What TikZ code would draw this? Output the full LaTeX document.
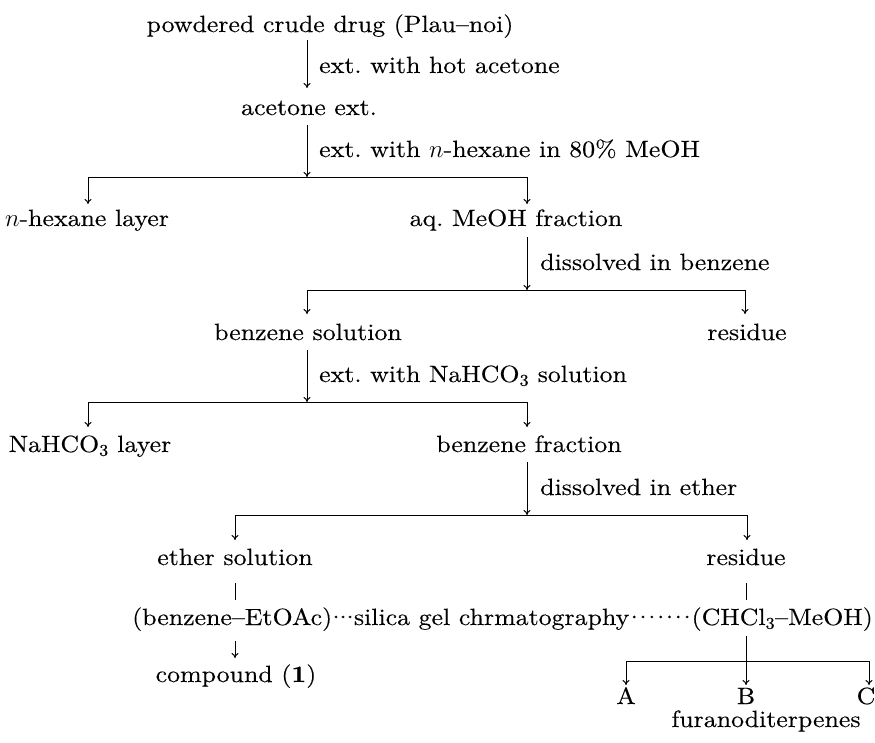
\documentclass[tikz,border=0pt]{standalone}
\usepackage{fontspec}
\setmainfont{lmroman10-regular.otf}[BoldFont=lmroman10-bold.otf, ItalicFont=lmroman10-italic.otf, FakeStretch=1.1, FakeBold=0.25]
\usetikzlibrary{arrows.meta,calc}
\newcommand\fsz{\fontsize{23.5}{27}\selectfont}
\newcommand\dd{\makebox[7pt]{\textperiodcentered}}
\newlength\dotw
\begin{document}
\begin{tikzpicture}[x=1pt,y=-1pt,
  lbl/.style={anchor=base, inner sep=0pt, font=\fsz},
  side/.style={anchor=base west, inner sep=0pt, font=\fsz},
  arr/.style={-{To[length=5pt,width=7pt]}, line width=1pt},
  ln/.style={line width=1pt}]
\useasboundingbox (0,0) rectangle (875,742);
% texts
\node[lbl] (top) at (330,32) {powdered crude drug (Plau--noi)};
\node[side] (l1) at (319,73) {ext.\ with hot acetone};
\node[lbl] (acet) at (309,115) {acetone ext.};
\node[side] (l2) at (319,157) {ext.\ with $n$-hexane in 80\% MeOH};
\node[lbl] (nhex) at (87,226) {$n$-hexane layer};
\node[lbl] (aq) at (516,226) {aq.\ MeOH fraction};
\node[side] (l3) at (540,270) {dissolved in benzene};
\node[lbl] (bsol) at (308,340) {benzene solution};
\node[lbl] (res1) at (747,340) {residue};
\node[side] (l4) at (319,382) {ext.\ with NaHCO\textsubscript{3} solution};
\node[lbl] (nahco) at (90,452) {NaHCO\textsubscript{3} layer};
\node[lbl] (bfrac) at (529,452) {benzene fraction};
\node[side] (l5) at (540,495) {dissolved in ether};
\node[lbl] (eth) at (235,565) {ether solution};
\node[lbl] (res2) at (746,565) {residue};
\node[side] (eto) at (132,625) {(benzene--EtOAc)};
\node[side] (dA) at (eto.base east) {\dd\dd\dd};
\node[side] (sg) at (dA.base east) {silica gel chrmatography};
\node[lbl, anchor=base east] (chcl) at (873,625) {(CHCl\textsubscript{3}--MeOH)};
\path let \p1=(sg.base east), \p2=(chcl.base west) in
  node[side] (dB) at (\p1) {\setlength\dotw{\dimexpr\x2-\x1\relax}\hbox to \dotw{\xleaders\hbox to 8.5pt{\hss\textperiodcentered\hss}\hfill}};
\node[lbl] (cmp) at (236,682) {compound (\textbf{1})};
\node[lbl] (A) at (626,704) {A};
\node[lbl] (B) at (746,704) {B};
\node[lbl] (C) at (866,704) {C};
\node[lbl] (fur) at (766,727) {furanoditerpenes};
% coordinates
\coordinate (a1s) at (307,40);  \coordinate (a1e) at (307,88);
\coordinate (a2s) at (307,125); \coordinate (a2e) at (307,177);
\coordinate (b1l) at (88,177);  \coordinate (b1r) at (527,177);
\coordinate (b1lt) at (88,204); \coordinate (b1rt) at (527,204);
\coordinate (a3s) at (527,237); \coordinate (a3e) at (527,290);
\coordinate (b2l) at (307,290); \coordinate (b2r) at (745,290);
\coordinate (b2lt) at (307,314); \coordinate (b2rt) at (745,314);
\coordinate (a4s) at (307,350); \coordinate (a4e) at (307,402);
\coordinate (b3l) at (88,402);  \coordinate (b3r) at (527,402);
\coordinate (b3lt) at (88,427); \coordinate (b3rt) at (527,427);
\coordinate (a5s) at (527,462); \coordinate (a5e) at (527,515);
\coordinate (b4l) at (235,515); \coordinate (b4r) at (747,515);
\coordinate (b4lt) at (235,540); \coordinate (b4rt) at (747,540);
\coordinate (v1s) at (235,583); \coordinate (v1e) at (235,600);
\coordinate (v2s) at (746,583); \coordinate (v2e) at (746,600);
\coordinate (a6s) at (235,641); \coordinate (a6e) at (235,658);
\coordinate (v3s) at (746,636); \coordinate (b5m) at (746,661);
\coordinate (b5l) at (626,661); \coordinate (b5r) at (869,661);
\coordinate (b5lt) at (626,685); \coordinate (b5mt) at (746,685); \coordinate (b5rt) at (869,685);
% connectors
\draw[arr] (a1s) -- (a1e);
\draw[arr] (a2s) -- (a2e);
\draw[ln] (b1l) -- (b1r);
\draw[arr] (b1l) -- (b1lt);
\draw[arr] (b1r) -- (b1rt);
\draw[arr] (a3s) -- (a3e);
\draw[ln] (b2l) -- (b2r);
\draw[arr] (b2l) -- (b2lt);
\draw[arr] (b2r) -- (b2rt);
\draw[arr] (a4s) -- (a4e);
\draw[ln] (b3l) -- (b3r);
\draw[arr] (b3l) -- (b3lt);
\draw[arr] (b3r) -- (b3rt);
\draw[arr] (a5s) -- (a5e);
\draw[ln] (b4l) -- (b4r);
\draw[arr] (b4l) -- (b4lt);
\draw[arr] (b4r) -- (b4rt);
\draw[ln] (v1s) -- (v1e);
\draw[ln] (v2s) -- (v2e);
\draw[arr] (a6s) -- (a6e);
\draw[ln] (v3s) -- (b5m);
\draw[ln] (b5l) -- (b5r);
\draw[arr] (b5l) -- (b5lt);
\draw[arr] (b5m) -- (b5mt);
\draw[arr] (b5r) -- (b5rt);
\end{tikzpicture}
\end{document}
